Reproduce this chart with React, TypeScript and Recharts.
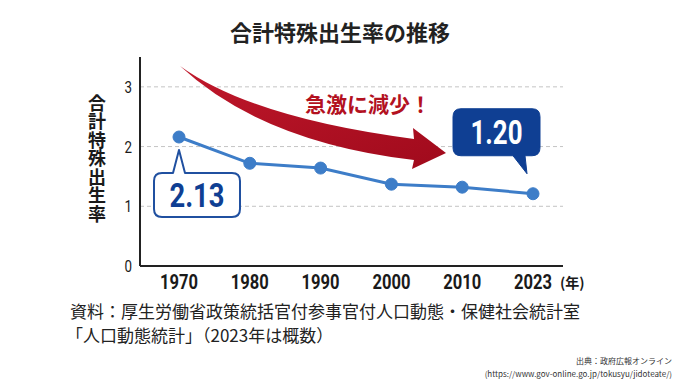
import React from 'react';
import { LineChart, Line, XAxis, YAxis, ReferenceLine, LabelList } from 'recharts';

const years = ['1970', '1980', '1990', '2000', '2010', '2023'];
const rates = [2.16, 1.72, 1.64, 1.37, 1.32, 1.21];
const yTicks = [0, 1, 2, 3];
const gridValues = [1, 2, 3];
const calloutIndex = [0, 5];
const calloutText = ['2.13', '1.20'];

const title = '合計特殊出生率の推移';
const yLabel = '合計特殊出生率';
const xUnit = '(年)';
const arrowText = '急激に減少！';
const note1 = '資料：厚生労働省政策統括官付参事官付人口動態・保健社会統計室';
const note2 = '「人口動態統計」（2023年は概数）';
const src1 = '出典：政府広報オンライン';
const src2 = '(https://www.gov-online.go.jp/tokusyu/jidoteate/)';

const data = years.map((y, i) => ({ year: y, rate: rates[i] }));

const NUM = "Roboto, 'Liberation Sans', sans-serif";
const CJK = "'Noto Sans CJK JP', 'Noto Sans', sans-serif";
const LINE = '#3d7dc8';
const NAVY = '#0f3f93';

const XTick = (props: any) => {
  const { x, y, payload } = props;
  return (
    <text
      x={x}
      y={y}
      dy={15}
      textAnchor="middle"
      fontFamily={NUM}
      fontWeight={700}
      fontSize={21}
      fill="#1a1a1a"
      textLength={38}
      lengthAdjust="spacingAndGlyphs"
    >
      {payload.value}
    </text>
  );
};

const YTick = (props: any) => {
  const { x, y, payload } = props;
  return (
    <text
      x={x}
      y={y}
      dy={6}
      textAnchor="end"
      fontFamily={NUM}
      fontSize={17}
      fill="#1a1a1a"
      textLength={7.5}
      lengthAdjust="spacingAndGlyphs"
    >
      {payload.value}
    </text>
  );
};

const renderCallout = (props: any) => {
  const { x, y, index } = props;
  const k = calloutIndex.indexOf(index);
  if (k < 0) return null;
  const text = calloutText[k];
  if (k === 0) {
    const l = x - 25, r = x + 61, t = y + 36, b = y + 80, rr = 8;
    const d = `M ${l + rr} ${t} L ${x - 6} ${t} L ${x} ${y + 13} L ${x + 6} ${t} L ${r - rr} ${t} Q ${r} ${t} ${r} ${t + rr} L ${r} ${b - rr} Q ${r} ${b} ${r - rr} ${b} L ${l + rr} ${b} Q ${l} ${b} ${l} ${b - rr} L ${l} ${t + rr} Q ${l} ${t} ${l + rr} ${t} Z`;
    return (
      <g>
        <path d={d} fill="#ffffff" stroke="#2050a0" strokeWidth={2} strokeLinejoin="round" />
        <text
          x={(l + r) / 2}
          y={(t + b) / 2}
          dy={12}
          textAnchor="middle"
          fontFamily={NUM}
          fontWeight={700}
          fontSize={34}
          fill={NAVY}
          textLength={55}
          lengthAdjust="spacingAndGlyphs"
        >
          {text}
        </text>
      </g>
    );
  }
  const l = x - 80, r = x + 7, t = y - 85, b = y - 38, rr = 8;
  const d = `M ${l + rr} ${t} L ${r - rr} ${t} Q ${r} ${t} ${r} ${t + rr} L ${r} ${b - rr} Q ${r} ${b} ${r - rr} ${b} L ${x - 8} ${b} L ${x - 6} ${y - 20} L ${x - 20} ${b} L ${l + rr} ${b} Q ${l} ${b} ${l} ${b - rr} L ${l} ${t + rr} Q ${l} ${t} ${l + rr} ${t} Z`;
  return (
    <g>
      <path d={d} fill={NAVY} stroke={NAVY} strokeWidth={1} strokeLinejoin="round" />
      <text
        x={(l + r) / 2}
        y={(t + b) / 2}
        dy={12}
        textAnchor="middle"
        fontFamily={NUM}
        fontWeight={700}
        fontSize={34}
        fill="#ffffff"
        textLength={52}
        lengthAdjust="spacingAndGlyphs"
      >
        {text}
      </text>
    </g>
  );
};

export default function App() {
  return (
    <div style={{ position: 'absolute', left: 0, top: 0, width: 680, height: 382, background: '#ffffff', overflow: 'hidden' }}>
      <LineChart width={680} height={382} data={data} margin={{ top: 57, right: 117, bottom: 86, left: 110 }}>
        {gridValues.map((v) => (
          <ReferenceLine key={v} y={v} stroke="#c4c4c4" strokeDasharray="4 3" strokeWidth={1} />
        ))}
        <XAxis
          dataKey="year"
          height={30}
          padding={{ left: 39, right: 30 }}
          axisLine={{ stroke: '#222', strokeWidth: 2 }}
          tickLine={false}
          tick={<XTick />}
          interval={0}
        />
        <YAxis
          width={30}
          domain={[0, 3.5]}
          ticks={yTicks}
          axisLine={{ stroke: '#222', strokeWidth: 2 }}
          tickLine={false}
          tick={<YTick />}
          interval={0}
        />
        <Line
          dataKey="rate"
          stroke={LINE}
          strokeWidth={3}
          dot={{ r: 6, fill: LINE, stroke: LINE, strokeWidth: 1 }}
          isAnimationActive={false}
        >
          <LabelList dataKey="rate" content={renderCallout} />
        </Line>
      </LineChart>

      <svg width={680} height={382} style={{ position: 'absolute', left: 0, top: 0, pointerEvents: 'none' }}>
        <defs>
          <linearGradient id="arrowGrad" x1="0" y1="0" x2="1" y2="1">
            <stop offset="0%" stopColor="#c0182b" />
            <stop offset="100%" stopColor="#a00a1c" />
          </linearGradient>
        </defs>
        <path
          d="M 180 66 Q 252 118 414 139 L 413 128 L 446 153 L 412 169 L 414 160 Q 262 142 180 66 Z"
          fill="url(#arrowGrad)"
        />
        <text x={368} y={105} dy={7} textAnchor="middle" fontFamily={CJK} fontWeight={700} fontSize={21} fill="#b3111f">
          {arrowText}
        </text>
        <text x={340} y={33} dy={8} textAnchor="middle" fontFamily={CJK} fontWeight={700} fontSize={22} fill="#222">
          {title}
        </text>
        <text x={560} y={283} dy={5} textAnchor="start" fontFamily={CJK} fontWeight={700} fontSize={14} fill="#1a1a1a">
          {xUnit}
        </text>
        <text x={70} y={312} dy={6} fontFamily={CJK} fontSize={17} fill="#222">
          {note1}
        </text>
        <text x={66} y={336} dy={6} fontFamily={CJK} fontSize={17} fill="#222">
          {note2}
        </text>
        <text x={672} y={361} dy={3} textAnchor="end" fontFamily={CJK} fontSize={8} fill="#333">
          {src1}
        </text>
        <text x={672} y={374} dy={3} textAnchor="end" fontFamily={CJK} fontSize={8} fill="#333">
          {src2}
        </text>
      </svg>

      <div
        style={{
          position: 'absolute',
          left: 87,
          top: 94,
          writingMode: 'vertical-rl',
          fontFamily: CJK,
          fontWeight: 700,
          fontSize: 18,
          lineHeight: '20px',
          letterSpacing: 0.5,
          color: '#1a1a1a',
        }}
      >
        {yLabel}
      </div>
    </div>
  );
}
